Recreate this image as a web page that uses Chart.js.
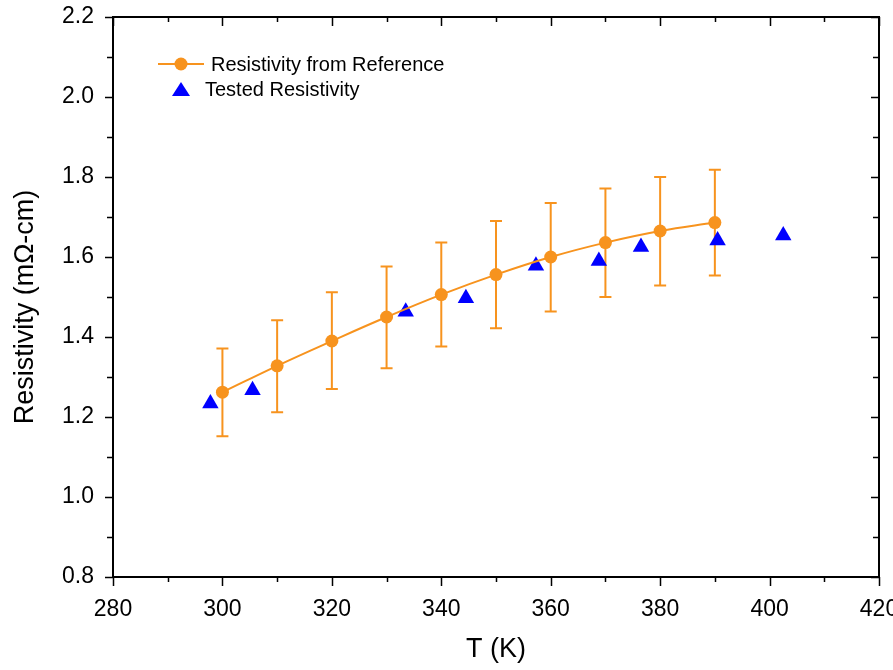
<!DOCTYPE html>
<html><head><meta charset="utf-8">
<script src="https://cdn.jsdelivr.net/npm/chart.js@4.4.0/dist/chart.umd.min.js"></script>
<style>html,body{margin:0;padding:0;background:#fff}#wrap{width:893px;height:670px}</style>
</head><body><div id="wrap"><canvas id="c" width="893" height="670"></canvas></div>
<script>
const refT = [300,310,320,330,340,350,360,370,380,390];
const refR = [1.262,1.328,1.39,1.45,1.506,1.556,1.600,1.636,1.665,1.686];
const refLo = [1.152,1.212,1.27,1.322,1.376,1.422,1.464,1.50,1.529,1.554];
const refHi = [1.371,1.442,1.512,1.576,1.636,1.690,1.735,1.771,1.800,1.818];
const testT = [297.8,305.5,333.5,344.5,357.3,368.8,376.5,390.5,402.5];
const testR = [1.234,1.267,1.463,1.497,1.578,1.59,1.625,1.641,1.654];
const legendLabels = ['Resistivity from Reference','Tested Resistivity'];
const yTitle = 'Resistivity (mΩ-cm)';
const orange = '#f7931e', blue = '#0000ff';
const FONT = '"Liberation Sans", Arial, sans-serif';

const frame = {
  id:'frame',
  beforeDatasetsDraw(chart){
    const {ctx, scales:{x,y}} = chart;
    ctx.save();
    ctx.strokeStyle = orange; ctx.lineWidth = 2;
    refT.forEach((t,i)=>{
      const px = x.getPixelForValue(t), lo = y.getPixelForValue(refLo[i]), hi = y.getPixelForValue(refHi[i]);
      ctx.beginPath();
      ctx.moveTo(px,lo); ctx.lineTo(px,hi);
      ctx.moveTo(px-6,lo); ctx.lineTo(px+6,lo);
      ctx.moveTo(px-6,hi); ctx.lineTo(px+6,hi);
      ctx.stroke();
    });
    ctx.restore();
  },
  afterDraw(chart){
    const {ctx, chartArea:a, scales:{x,y}} = chart;
    ctx.save();
    ctx.strokeStyle = '#000'; ctx.lineWidth = 2;
    ctx.strokeRect(a.left, a.top, a.right-a.left, a.bottom-a.top);
    ctx.lineWidth = 1.5;
    ctx.beginPath();
    for(let v=280; v<=420; v+=10){
      const px = Math.round(x.getPixelForValue(v))+0.5;
      const major = v%20===0;
      const L = major?9:5;
      ctx.moveTo(px,a.bottom); ctx.lineTo(px,a.bottom+L);
      ctx.moveTo(px,a.top); ctx.lineTo(px,a.top+L);
    }
    for(let k=8; k<=22; k++){
      const v = k/10;
      const py = Math.round(y.getPixelForValue(v))+0.5;
      const major = k%2===0;
      const L = major?8:6;
      ctx.moveTo(a.left,py); ctx.lineTo(a.left-L,py);
      ctx.moveTo(a.right,py); ctx.lineTo(a.right-L,py);
    }
    ctx.stroke();
    // y title
    ctx.save();
    ctx.translate(26, 307);
    ctx.rotate(-Math.PI/2);
    ctx.font = '27px ' + FONT;
    ctx.fillStyle = '#000'; ctx.textAlign = 'center'; ctx.textBaseline = 'middle';
    ctx.fillText(yTitle, 0, 0);
    ctx.restore();
    // legend
    ctx.font = '20px ' + FONT;
    ctx.textBaseline = 'middle';
    ctx.strokeStyle = orange; ctx.lineWidth = 2;
    ctx.beginPath(); ctx.moveTo(158,64); ctx.lineTo(204,64); ctx.stroke();
    ctx.fillStyle = orange; ctx.beginPath(); ctx.arc(181,64,6.5,0,Math.PI*2); ctx.fill();
    ctx.fillStyle = blue; ctx.beginPath(); ctx.moveTo(181,82); ctx.lineTo(190,96); ctx.lineTo(172,96); ctx.closePath(); ctx.fill();
    ctx.fillStyle = '#000';
    ctx.fillText(legendLabels[0], 211, 65);
    ctx.fillText(legendLabels[1], 205, 90);
    ctx.restore();
  }
};

new Chart(document.getElementById('c'), {
  type:'scatter',
  data:{datasets:[
    {label:legendLabels[0], data:refT.map((t,i)=>({x:t,y:refR[i]})), showLine:true, borderColor:orange, backgroundColor:orange, borderWidth:2, pointRadius:6.5, pointHoverRadius:6.5, tension:0.4, pointBorderWidth:0},
    {label:legendLabels[1], data:testT.map((t,i)=>({x:t,y:testR[i]})), borderColor:blue, backgroundColor:blue, pointStyle:'triangle', pointRadius:9.5, pointHoverRadius:9.5, pointBorderWidth:0}
  ]},
  options:{
    responsive:false, animation:false,
    layout:{padding:{top:17,right:14,left:0,bottom:0}},
    plugins:{legend:{display:false}, tooltip:{enabled:false}},
    scales:{
      x:{type:'linear', min:280, max:420,
        ticks:{stepSize:20, color:'#000', font:{size:23, family:FONT}, padding:11, maxRotation:0},
        grid:{display:false}, border:{display:false},
        title:{display:true, text:'T (K)', color:'#000', font:{size:27, family:FONT}, padding:{top:18}},
        afterFit(s){ s.height = 93; s.paddingLeft = 0; s.paddingRight = 0; }
      },
      y:{type:'linear', min:0.8, max:2.2,
        ticks:{stepSize:0.2, color:'#000', font:{size:23, family:FONT}, padding:11, callback:v=>v.toFixed(1)},
        grid:{display:false}, border:{display:false},
        title:{display:false},
        afterFit(s){ s.width = 113; s.paddingTop = 0; s.paddingBottom = 0; }
      }
    }
  },
  plugins:[frame]
});
</script></body></html>
